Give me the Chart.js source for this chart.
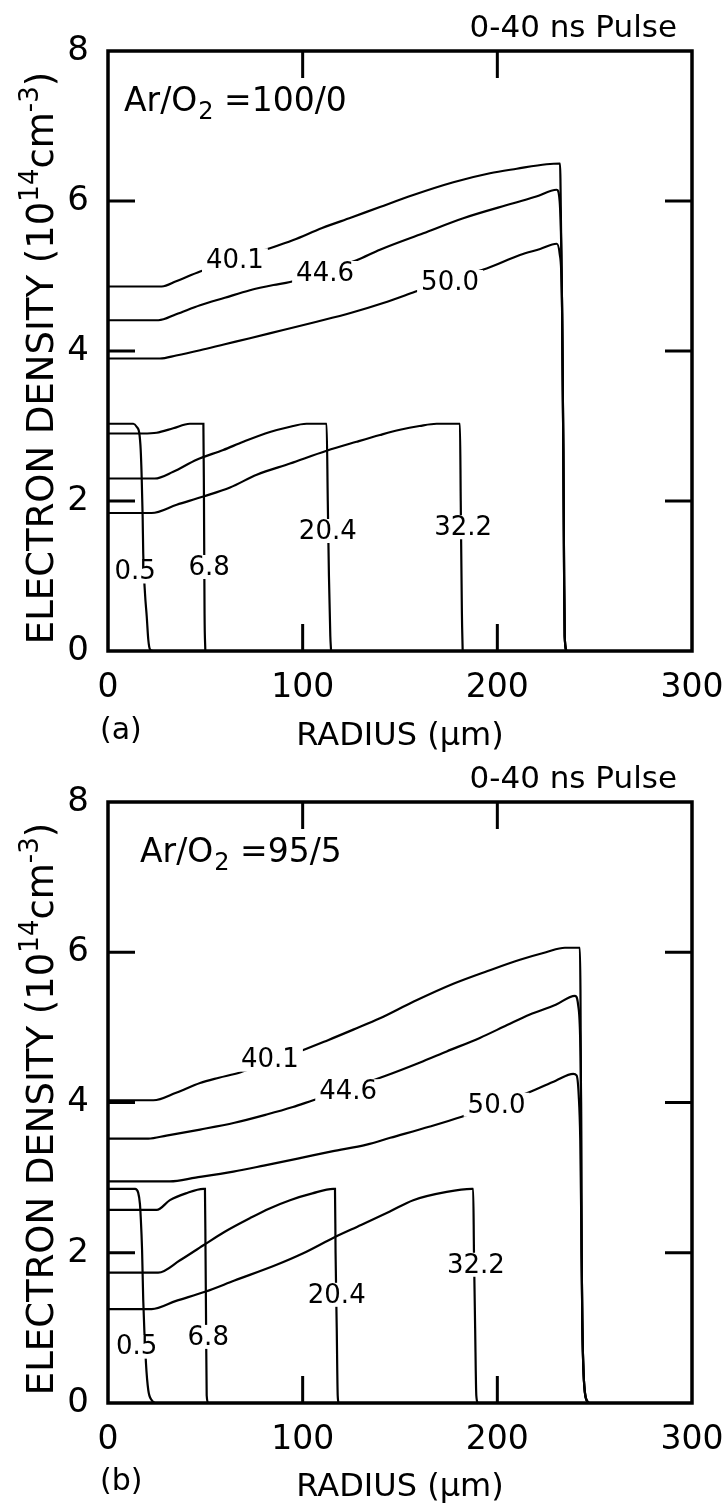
<!DOCTYPE html>
<html>
<head>
<meta charset="utf-8">
<script src="https://cdn.jsdelivr.net/npm/chart.js@4.4.1/dist/chart.umd.min.js"></script>
<style>
  html, body { margin: 0; padding: 0; background: #fff; }
  #wrap { position: relative; width: 725px; height: 1510px; overflow: hidden; background: #fff; }
  canvas { position: absolute; left: 0; }
</style>
</head>
<body>
<div id="wrap">
  <canvas id="chartA" width="725" height="760" style="top:0px"></canvas>
  <canvas id="chartB" width="725" height="760" style="top:751px"></canvas>
</div>
<script>
// axis ticks
const xTicks = [0, 100, 200, 300];
const yTicks = [0, 2, 4, 6, 8];
const pulseTimes = ['0.5', '6.8', '20.4', '32.2', '40.1', '44.6', '50.0'];

// panel (a) Ar/O2 = 100/0 : [radius um, density 1e14 cm-3]
const a_t05  = [[0,3.03],[13,3.03],[14.7,2.99],[16.1,2.9],[16.8,2.68],[17.3,2.32],[17.8,1.79],[18.1,1.3],[19,0.77],[19.9,0.46],[20.7,0.15],[21.6,0.02],[23,0]];
const a_t68  = [[0,2.9],[18,2.9],[25,2.91],[33.5,2.97],[42,3.03],[49,3.03],[49.3,2.0],[49.6,0.5],[50,0]];
const a_t204 = [[0,2.3],[24,2.3],[33.5,2.39],[45.5,2.55],[59.2,2.68],[69.5,2.79],[83.2,2.92],[92,2.98],[102,3.03],[112.3,3.03],[112.9,2.0],[113.5,1.0],[114.2,0.2],[114.6,0]];
const a_t322 = [[0,1.84],[22.4,1.84],[35.3,1.95],[49,2.06],[62.7,2.18],[76.4,2.35],[93.5,2.5],[112.3,2.67],[127.7,2.79],[139.7,2.88],[150,2.95],[160,3.0],[168.8,3.03],[180.8,3.03],[181.2,2.0],[181.8,0.5],[182.2,0]];
const a_t401 = [[0,4.86],[27.6,4.86],[35,4.93],[47.3,5.06],[60,5.17],[70,5.26],[83.2,5.37],[95.2,5.48],[110,5.64],[125,5.78],[139.7,5.92],[156.8,6.08],[177.4,6.25],[196.2,6.37],[210,6.43],[225.3,6.49],[232.2,6.5],[232.8,5.5],[233.3,4.5],[233.9,2.7],[234.3,1.0],[234.6,0.2],[235.5,0]];
const a_t446 = [[0,4.41],[25.9,4.41],[35,4.49],[47.3,4.61],[60,4.71],[72.9,4.81],[85,4.88],[93.5,4.92],[110,5.06],[127.7,5.21],[139.7,5.35],[162,5.57],[182.5,5.77],[208.2,5.97],[220,6.06],[230.5,6.15],[232,6.0],[232.9,5.3],[233.3,4.5],[233.9,2.7],[234.3,1.0],[234.6,0.2],[235.5,0]];
const a_t500 = [[0,3.9],[26.7,3.9],[35,3.94],[47.3,4.01],[60,4.09],[72.9,4.17],[90,4.28],[107.2,4.39],[125,4.51],[141.4,4.64],[157.7,4.79],[175,4.95],[194.5,5.1],[211.6,5.28],[222,5.36],[230.5,5.43],[232,5.3],[233.2,4.7],[233.9,2.7],[234.3,1.0],[234.6,0.2],[235.5,0]];
// where each time label sits on its curve (data units)
const a_labelPos = [[13.9,1.06],[52,1.12],[112.9,1.6],[182.4,1.65],[65.2,5.21],[111.5,5.04],[175.7,4.92]];

// panel (b) Ar/O2 = 95/5
const b_t05  = [[0,2.85],[13.9,2.85],[15.5,2.8],[16.4,2.65],[16.8,2.48],[17.5,2.04],[18.1,1.37],[19.5,0.53],[20.7,0.17],[22.4,0.04],[24,0]];
const b_t68  = [[0,2.57],[25,2.57],[31.8,2.7],[40,2.79],[49,2.85],[49.8,2.85],[50.1,2.0],[50.4,1.0],[50.7,0.1],[51.5,0]];
const b_t204 = [[0,1.735],[25.8,1.735],[37,1.9],[49,2.1],[60,2.28],[72.9,2.46],[83,2.59],[93.5,2.7],[105,2.79],[115.7,2.85],[116.6,2.85],[116.9,2.0],[117.5,1.0],[118,0.1],[118.5,0]];
const b_t322 = [[0,1.25],[22.4,1.25],[35,1.36],[49.8,1.48],[65,1.63],[86.6,1.84],[100,1.99],[116.6,2.21],[130,2.37],[144.8,2.55],[156.8,2.7],[174,2.81],[186.8,2.85],[187.6,2.85],[188,2.0],[188.6,1.0],[189.2,0.1],[190,0]];
const b_t401 = [[0,4.03],[23.3,4.03],[35,4.13],[47.3,4.26],[57,4.33],[67.8,4.4],[83,4.55],[100.3,4.7],[113,4.83],[126,4.97],[139.7,5.12],[156.8,5.34],[177.4,5.58],[195,5.75],[211.6,5.9],[225,6.0],[234.7,6.06],[242.4,6.06],[242.7,5.5],[243,4.0],[243.3,2.0],[243.7,1.0],[244.3,0.4],[245.2,0.1],[247,0]];
const b_t446 = [[0,3.52],[20.7,3.52],[30,3.56],[47.3,3.64],[65,3.73],[81.5,3.84],[95,3.94],[105.4,4.03],[120,4.15],[143,4.36],[160,4.53],[174,4.68],[191,4.86],[205,5.03],[216.7,5.17],[230,5.3],[239.9,5.42],[241.5,5.3],[242.6,4.8],[243,4.0],[243.3,2.0],[243.7,1.0],[244.3,0.4],[245.2,0.1],[247,0]];
const b_t500 = [[0,2.95],[31.8,2.95],[45,3.0],[64.4,3.08],[80,3.16],[98.6,3.26],[115,3.35],[132.9,3.44],[145,3.53],[165.4,3.68],[181.7,3.81],[200,3.98],[217.6,4.15],[230,4.29],[239,4.38],[240.7,4.36],[241.8,4.1],[242.6,3.5],[243.3,2.0],[243.7,1.0],[244.3,0.4],[245.2,0.1],[247,0]];
const b_labelPos = [[14.7,0.75],[51.5,0.88],[117.5,1.44],[189,1.84],[83.2,4.57],[123.4,4.15],[199.6,3.97]];

const FONT = "'DejaVu Sans', sans-serif";

// frame, inward ticks, curve labels and the free texts
const decorPlugin = {
  id: 'decor',
  afterDatasetsDraw(chart) {
    const { ctx, scales: { x, y } } = chart;
    const o = chart.options.plugins.decor;
    ctx.save();
    ctx.font = '26px ' + FONT;
    ctx.textAlign = 'center';
    ctx.textBaseline = 'middle';
    o.labelPos.forEach((p, i) => {
      const px = x.getPixelForValue(p[0]);
      const py = y.getPixelForValue(p[1]);
      const w = ctx.measureText(pulseTimes[i]).width + 8;
      ctx.fillStyle = '#fff';
      ctx.fillRect(px - w / 2, py - 12, w, 24);
      ctx.fillStyle = '#000';
      ctx.fillText(pulseTimes[i], px, py + 1);
    });
    ctx.restore();
  },
  afterDraw(chart) {
    const { ctx, chartArea: a, scales: { x, y } } = chart;
    const o = chart.options.plugins.decor;
    ctx.save();
    ctx.strokeStyle = '#000';
    ctx.lineWidth = 3.5;
    ctx.strokeRect(a.left, a.top, a.right - a.left, a.bottom - a.top);
    ctx.lineWidth = 3;
    const tl = 27;
    ctx.beginPath();
    xTicks.slice(1, -1).forEach(v => {
      const px = x.getPixelForValue(v);
      ctx.moveTo(px, a.bottom); ctx.lineTo(px, a.bottom - tl);
      ctx.moveTo(px, a.top); ctx.lineTo(px, a.top + tl);
    });
    yTicks.slice(1, -1).forEach(v => {
      const py = y.getPixelForValue(v);
      ctx.moveTo(a.left, py); ctx.lineTo(a.left + tl, py);
      ctx.moveTo(a.right, py); ctx.lineTo(a.right - tl, py);
    });
    ctx.stroke();

    ctx.fillStyle = '#000';
    ctx.textBaseline = 'alphabetic';
    // pulse note
    ctx.font = '31px ' + FONT;
    ctx.textAlign = 'right';
    ctx.fillText('0-40 ns Pulse', 677, 37);
    // gas mixture
    ctx.textAlign = 'left';
    let tx = o.mixX;
    ctx.font = '33px ' + FONT;
    ctx.fillText('Ar/O', tx, 111);
    tx += ctx.measureText('Ar/O').width + 1;
    ctx.font = '24px ' + FONT;
    ctx.fillText('2', tx, 119);
    tx += ctx.measureText('2').width;
    ctx.font = '33px ' + FONT;
    ctx.fillText(' =' + o.mix, tx, 111);
    // panel tag
    ctx.font = '30px ' + FONT;
    ctx.textBaseline = 'middle';
    ctx.fillText(o.tag, 100, 731);
    // rotated y title with superscripts
    const parts = [
      ['ELECTRON DENSITY (10', 37, 0],
      ['14', 26, -15],
      ['cm', 37, 0],
      ['-3', 26, -15],
      [')', 37, 0]
    ];
    ctx.textBaseline = 'alphabetic';
    let total = 0;
    parts.forEach(p => { ctx.font = p[1] + 'px ' + FONT; total += ctx.measureText(p[0]).width; });
    ctx.translate(53, 358);
    ctx.rotate(-Math.PI / 2);
    let u = -total / 2;
    parts.forEach(p => {
      ctx.font = p[1] + 'px ' + FONT;
      ctx.fillText(p[0], u, p[2]);
      u += ctx.measureText(p[0]).width;
    });
    ctx.restore();
  }
};

function makeChart(id, curves, labelPos, mix, mixX, tag, bottomPx) {
  const ctx = document.getElementById(id).getContext('2d');
  return new Chart(ctx, {
    type: 'scatter',
    data: {
      datasets: curves.map((c, i) => ({
        label: pulseTimes[i],
        data: c.map(p => ({ x: p[0], y: p[1] })),
        showLine: true,
        borderColor: '#000',
        borderWidth: 2.2,
        pointRadius: 0,
        cubicInterpolationMode: 'monotone',
        clip: 4
      }))
    },
    options: {
      responsive: false,
      animation: false,
      devicePixelRatio: 1,
      layout: { padding: { top: 51, right: 33, left: 0, bottom: 0 } },
      scales: {
        x: {
          type: 'linear', min: 0, max: 300,
          afterBuildTicks: s => { s.ticks = xTicks.map(v => ({ value: v })); },
          afterFit: s => { s.height = 760 - bottomPx; s.paddingLeft = 0; s.paddingRight = 0; },
          grid: { display: false },
          border: { display: false },
          ticks: { color: '#000', font: { family: FONT, size: 33 }, padding: 10, maxRotation: 0, autoSkip: false },
          title: { display: true, text: 'RADIUS (\u00b5m)', color: '#000', font: { family: FONT, size: 32, lineHeight: 1 }, padding: { top: 0, bottom: 7 } }
        },
        y: {
          type: 'linear', min: 0, max: 8,
          afterBuildTicks: s => { s.ticks = yTicks.map(v => ({ value: v })); },
          afterFit: s => { s.width = 108; s.paddingTop = 0; s.paddingBottom = 0; },
          grid: { display: false },
          border: { display: false },
          ticks: { color: '#000', font: { family: FONT, size: 34 }, padding: 11 }
        }
      },
      plugins: {
        legend: { display: false },
        tooltip: { enabled: false },
        decor: { labelPos: labelPos, mix: mix, mixX: mixX, tag: tag }
      }
    },
    plugins: [decorPlugin]
  });
}

makeChart('chartA', [a_t05, a_t68, a_t204, a_t322, a_t401, a_t446, a_t500], a_labelPos, '100/0', 124, '(a)', 651);
makeChart('chartB', [b_t05, b_t68, b_t204, b_t322, b_t401, b_t446, b_t500], b_labelPos, '95/5', 140, '(b)', 652);
</script>
</body>
</html>
